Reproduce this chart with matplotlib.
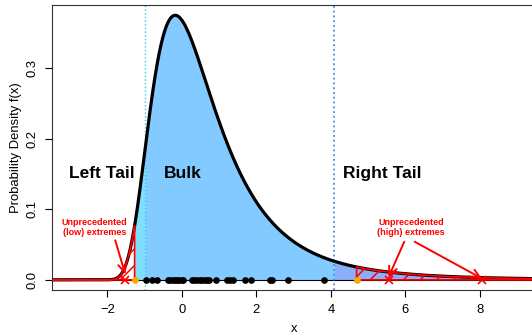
import numpy as np
import matplotlib.pyplot as plt

plt.rcParams['font.family'] = ['Liberation Sans', 'DejaVu Sans']
plt.rcParams['hatch.linewidth'] = 1.1

# GEV density f(x): location, scale, shape
gev_loc = 0.0
gev_scale = 1.0
gev_shape = 0.2

# observed sample (points on the x axis)
sample_x = [-0.96, -0.81, -0.68, -0.37, -0.31, -0.25, -0.19, -0.13, -0.07, -0.01, 0.04,
            0.27, 0.33, 0.40, 0.49, 0.55, 0.61, 0.67, 0.72, 0.91, 1.22, 1.28, 1.37,
            1.70, 1.86, 2.37, 2.43, 2.85, 3.82]
sample_min = -1.27
sample_max = 4.69

# 5% / 95% quantiles separating tails and bulk
q_low = -0.98
q_high = 4.09

# unprecedented extremes beyond the observed range
extremes_low = [-1.52]
extremes_high = [5.55, 8.05]

region_labels = ['Left Tail', 'Bulk', 'Right Tail']
region_label_x = [-2.16, 0.03, 5.39]


def gev_pdf(x, loc, scale, shape):
    z = (np.asarray(x, dtype=float) - loc) / scale
    s = 1 + shape * z
    out = np.zeros_like(z)
    ok = s > 0
    t = s[ok] ** (-1 / shape)
    out[ok] = t ** (shape + 1) * np.exp(-t) / scale
    return out


def f(x):
    return gev_pdf(x, gev_loc, gev_scale, gev_shape)


def main():
    xlim = (-3.48, 9.48)
    fmax = f(gev_loc + gev_scale * ((1 + gev_shape) ** (-gev_shape) - 1) / gev_shape)
    ylim = (-0.04 * fmax, 1.04 * fmax)

    fig = plt.figure(figsize=(5.32, 3.34), dpi=100)
    ax = fig.add_axes([0.0983, 0.1305, 0.9073, 0.8554])

    xs = np.linspace(xlim[0], xlim[1], 2000)

    # coloured areas under the density
    def shade(a, b, **kw):
        xx = np.linspace(a, b, 400)
        ax.fill_between(xx, 0, f(xx), **kw)

    shade(sample_min, q_low, color='#80DEFF', lw=0)
    shade(q_low, q_high, color='#82CAFF', lw=0)
    shade(q_high, xlim[1], color='#8AAFF8', lw=0)

    ax.axhline(0, color='black', lw=0.8, zorder=2)
    ax.plot(xs, f(xs), color='black', lw=2.3, zorder=3)

    ax.axvline(q_low, color='#33C8EE', lw=1.0, ls=':', zorder=2)
    ax.axvline(q_high, color='#4A86EE', lw=1.3, ls=':', zorder=2)

    # hatched areas beyond the observed range
    shade(xlim[0], sample_min, facecolor='none', edgecolor='red', hatch='//', lw=1.2, zorder=4)
    shade(sample_max, xlim[1], facecolor='none', edgecolor='red', hatch='//', lw=1.2, zorder=4)

    ax.plot(sample_x, np.zeros(len(sample_x)), 'o', color='black', ms=3.8, zorder=5)
    ax.plot([sample_min, sample_max], [0, 0], 'o', color='orange', ms=3.8, zorder=5)
    ext = extremes_low + extremes_high
    ax.plot(ext, np.zeros(len(ext)), 'x', color='red', ms=6, mew=1.2, zorder=6)

    for xl, lab in zip(region_label_x, region_labels):
        ax.text(xl, 0.151, lab, ha='center', va='center', fontsize=12.5, fontweight='bold')

    red_txt = dict(ha='center', va='center', fontsize=6.5, fontweight='bold', color='red',
                   linespacing=1.15)
    ax.text(-2.34, 0.0745, 'Unprecedented\n(low) extremes', **red_txt)
    ax.text(6.15, 0.0735, 'Unprecedented\n(high) extremes', **red_txt)

    arrow = dict(arrowstyle='->,head_length=0.6,head_width=0.3', color='red', lw=1.4,
                 shrinkA=0, shrinkB=0)
    ax.annotate('', xy=(extremes_low[0], 0.008), xytext=(-1.79, 0.056), arrowprops=arrow, zorder=6)
    ax.annotate('', xy=(extremes_high[0], 0.004), xytext=(5.97, 0.054), arrowprops=arrow, zorder=6)
    ax.annotate('', xy=(extremes_high[1], 0.002), xytext=(6.25, 0.054), arrowprops=arrow, zorder=6)

    ax.set_xlim(*xlim)
    ax.set_ylim(*ylim)
    ax.set_xticks([-2, 0, 2, 4, 6, 8])
    ax.set_yticks([0.0, 0.1, 0.2, 0.3])
    ax.set_yticklabels(['0.0', '0.1', '0.2', '0.3'])
    ax.tick_params(direction='out', length=5, width=0.8, labelsize=9.4, pad=5)
    ax.tick_params(axis='y', labelrotation=90)
    for t in ax.get_yticklabels():
        t.set_va('center')
    for sp in ax.spines.values():
        sp.set_linewidth(0.8)
        sp.set_color('#333333')

    ax.set_xlabel('x', fontsize=9.4)
    ax.set_ylabel('Probability Density f(x)', fontsize=9.4)
    ax.xaxis.set_label_coords(0.5, -0.115)
    ax.yaxis.set_label_coords(-0.062, 0.5)

    fig.savefig('out.png', dpi=100)
    return 0


if __name__ == '__main__':
    main()
